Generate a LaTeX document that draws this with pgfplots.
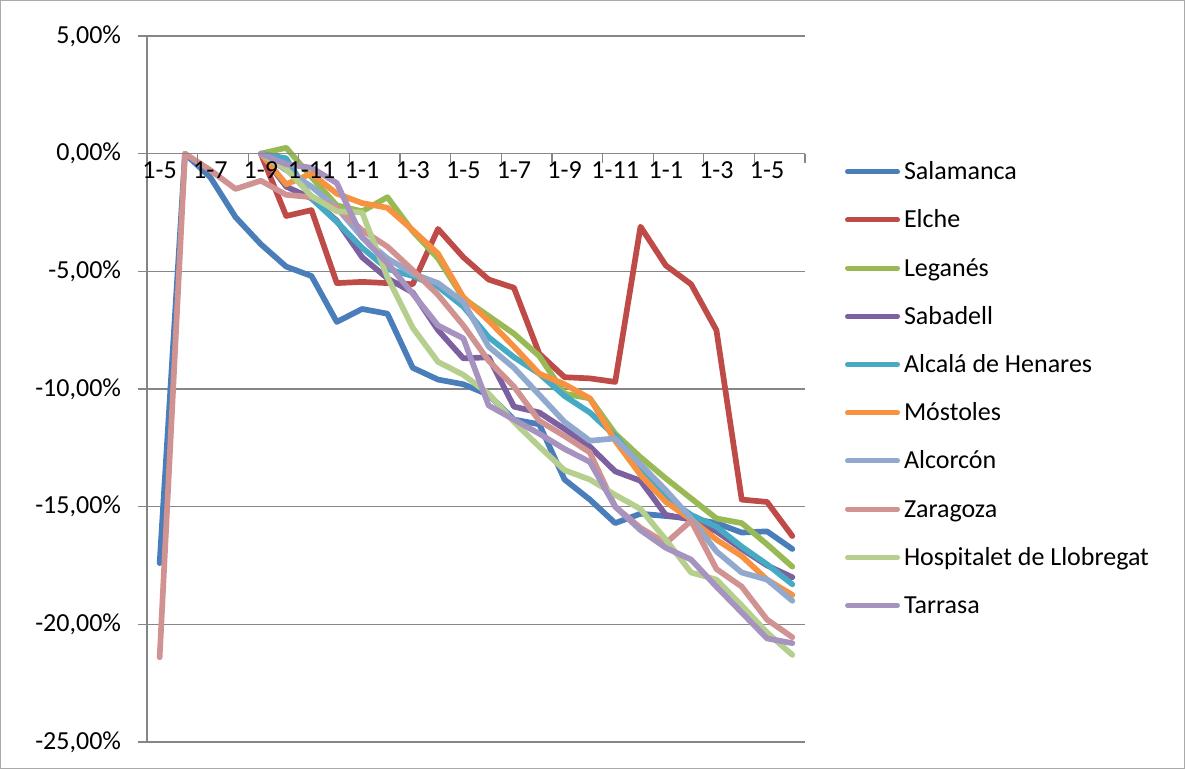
\documentclass[border=0pt]{standalone}
\usepackage{pgfplots}
\pgfplotsset{compat=1.18}
\usepackage{fontspec}
\setmainfont{Carlito}
\definecolor{gridc}{HTML}{868686}
\definecolor{c1}{HTML}{4A7EBB}
\definecolor{c2}{HTML}{BE4B48}
\definecolor{c3}{HTML}{98B954}
\definecolor{c4}{HTML}{7D60A0}
\definecolor{c5}{HTML}{46AAC5}
\definecolor{c6}{HTML}{F69240}
\definecolor{c7}{HTML}{92A9CF}
\definecolor{c8}{HTML}{D09391}
\definecolor{c9}{HTML}{B7CF8E}
\definecolor{c10}{HTML}{A793C0}
\begin{document}
\begin{tikzpicture}
\useasboundingbox (0,0) rectangle (592.5pt,384.5pt);
\draw[gridc!70, line width=0.5pt] (0.25pt,0.25pt) rectangle (592.25pt,384.25pt);
\begin{axis}[
  axis on top,
  at={(73.5pt,13.5pt)}, anchor=south west,
  scale only axis, width=329pt, height=353pt,
  xmin=-0.5, xmax=25.5, ymin=-25, ymax=5,
  axis x line*=middle, axis y line*=left,
  hide obscured x ticks=false, hide obscured y ticks=false,
  axis line style={draw=gridc, line width=0.6pt},
  tick style={gridc, line width=0.6pt},
  major tick length=4.5pt, tick align=outside,
  ytick={-25,-20,-15,-10,-5,0,5},
  yticklabels={{-25,00\%},{-20,00\%},{-15,00\%},{-10,00\%},{-5,00\%},{0,00\%},{5,00\%}},
  xtick={-0.5,1.5,...,25.5}, xticklabels={},
  extra x ticks={0,2,...,24},
  extra x tick labels={1-5,1-7,1-9,1-11,1-1,1-3,1-5,1-7,1-9,1-11,1-1,1-3,1-5},
  extra x tick style={major tick length=0pt, grid=none},
  tick label style={font=\fontsize{13}{15}\selectfont, text=black},
  yticklabel style={anchor=east, inner sep=0pt, xshift=-8.3pt},
  xticklabel style={anchor=north, inner sep=0pt, yshift=-4pt},
  clip=false,
  legend style={at={(1.0608,0.8419)}, anchor=north west, draw=none, fill=none,
    inner sep=0pt, outer sep=0pt, row sep=0pt, column sep=2pt,
    font=\fontsize{13}{15}\selectfont,
    nodes={inner sep=0pt, text height=16.05pt, text depth=8.05pt}},
  legend cell align=left,
  legend image code/.code={\draw[#1, line width=2.5pt, line cap=round] (1.25pt,0pt) -- (26.25pt,0pt);},
  every axis plot/.append style={line width=2.85pt, line join=round, line cap=round},
]
\pgfplotsinvokeforeach{-25,-20,-15,-10,-5,5}{
  \draw[gridc, line width=0.6pt] (axis cs:-0.5,#1) -- (axis cs:25.5,#1);
}
\addplot[c1] coordinates {(0,-17.4)(1,0)(2,-1.0)(3,-2.7)(4,-3.85)(5,-4.8)(6,-5.2)(7,-7.15)(8,-6.6)(9,-6.8)(10,-9.1)(11,-9.6)(12,-9.8)(13,-10.25)(14,-11.3)(15,-11.5)(16,-13.85)(17,-14.7)(18,-15.7)(19,-15.3)(20,-15.4)(21,-15.5)(22,-15.7)(23,-16.1)(24,-16.05)(25,-16.8)};
\addlegendentry{Salamanca}
\addplot[c2] coordinates {(4,0)(5,-2.65)(6,-2.4)(7,-5.5)(8,-5.45)(9,-5.5)(10,-5.55)(11,-3.2)(12,-4.4)(13,-5.35)(14,-5.7)(15,-8.5)(16,-9.5)(17,-9.55)(18,-9.7)(19,-3.1)(20,-4.75)(21,-5.55)(22,-7.5)(23,-14.7)(24,-14.8)(25,-16.25)};
\addlegendentry{Elche}
\addplot[c3] coordinates {(4,0)(5,0.25)(6,-1.0)(7,-2.2)(8,-2.45)(9,-1.85)(10,-3.3)(11,-4.45)(12,-6.15)(13,-6.9)(14,-7.65)(15,-8.6)(16,-10.2)(17,-10.4)(18,-11.9)(19,-12.9)(20,-13.8)(21,-14.65)(22,-15.5)(23,-15.7)(24,-16.6)(25,-17.55)};
\addlegendentry{Leganés}
\addplot[c4] coordinates {(4,0)(5,-1.4)(6,-1.9)(7,-2.85)(8,-4.4)(9,-5.3)(10,-5.9)(11,-7.5)(12,-8.7)(13,-8.65)(14,-10.75)(15,-11.0)(16,-11.7)(17,-12.45)(18,-13.5)(19,-13.9)(20,-15.35)(21,-15.55)(22,-16.05)(23,-16.8)(24,-17.5)(25,-18.0)};
\addlegendentry{Sabadell}
\addplot[c5] coordinates {(4,0)(5,-0.2)(6,-1.9)(7,-2.9)(8,-4.0)(9,-4.9)(10,-5.2)(11,-5.65)(12,-6.5)(13,-7.8)(14,-8.65)(15,-9.35)(16,-10.3)(17,-11.0)(18,-12.0)(19,-13.3)(20,-14.6)(21,-15.35)(22,-15.85)(23,-16.7)(24,-17.45)(25,-18.3)};
\addlegendentry{Alcalá de Henares}
\addplot[c6] coordinates {(4,0)(5,-1.3)(6,-0.85)(7,-1.7)(8,-2.1)(9,-2.3)(10,-3.25)(11,-4.25)(12,-6.1)(13,-7.1)(14,-8.2)(15,-9.35)(16,-9.8)(17,-10.4)(18,-12.2)(19,-13.65)(20,-14.8)(21,-15.55)(22,-16.4)(23,-17.1)(24,-18.1)(25,-18.75)};
\addlegendentry{Móstoles}
\addplot[c7] coordinates {(4,0)(5,-0.7)(6,-1.4)(7,-2.3)(8,-3.55)(9,-4.45)(10,-5.1)(11,-5.5)(12,-6.3)(13,-8.2)(14,-9.1)(15,-10.25)(16,-11.4)(17,-12.2)(18,-12.1)(19,-13.2)(20,-14.3)(21,-15.5)(22,-16.9)(23,-17.8)(24,-18.1)(25,-19.0)};
\addlegendentry{Alcorcón}
\addplot[c8] coordinates {(0,-21.4)(1,0)(2,-0.7)(3,-1.5)(4,-1.15)(5,-1.75)(6,-1.85)(7,-2.3)(8,-3.25)(9,-3.95)(10,-4.95)(11,-6.0)(12,-7.3)(13,-8.8)(14,-9.9)(15,-11.35)(16,-12.0)(17,-12.7)(18,-15.0)(19,-15.9)(20,-16.55)(21,-15.6)(22,-17.65)(23,-18.4)(24,-19.8)(25,-20.55)};
\addlegendentry{Zaragoza}
\addplot[c9] coordinates {(4,0)(5,-0.65)(6,-1.8)(7,-2.45)(8,-2.5)(9,-5.25)(10,-7.4)(11,-8.85)(12,-9.4)(13,-10.2)(14,-11.4)(15,-12.45)(16,-13.45)(17,-13.85)(18,-14.5)(19,-15.1)(20,-16.4)(21,-17.8)(22,-18.1)(23,-19.2)(24,-20.35)(25,-21.3)};
\addlegendentry{Hospitalet de Llobregat}
\addplot[c10] coordinates {(4,0)(5,-0.45)(6,-0.6)(7,-1.25)(8,-3.55)(9,-4.65)(10,-5.95)(11,-7.3)(12,-7.85)(13,-10.7)(14,-11.3)(15,-11.9)(16,-12.55)(17,-13.1)(18,-15.0)(19,-16.0)(20,-16.75)(21,-17.25)(22,-18.4)(23,-19.5)(24,-20.6)(25,-20.8)};
\addlegendentry{Tarrasa}
\end{axis}
\end{tikzpicture}
\end{document}
